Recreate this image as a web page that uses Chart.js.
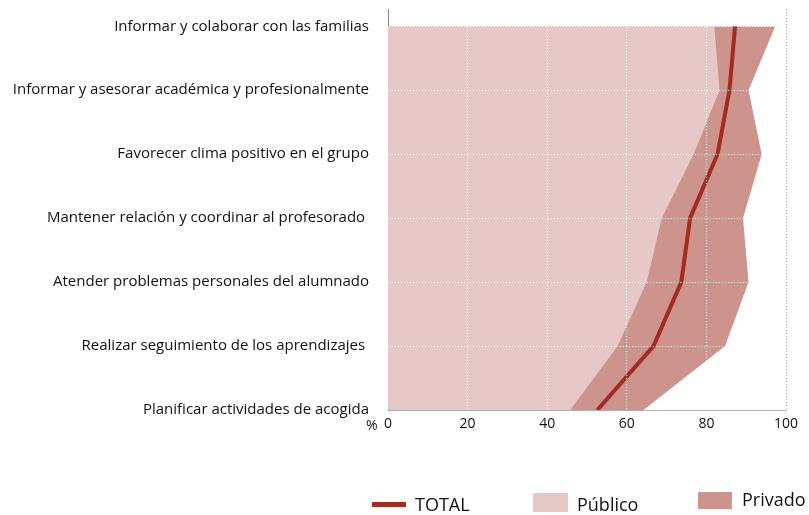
<!DOCTYPE html>
<html>
<head>
<meta charset="utf-8">
<script src="https://cdn.jsdelivr.net/npm/chart.js@4"></script>
<style>
    html, body { margin: 0; padding: 0; background: #fff; }
    #wrap { position: relative; width: 809px; height: 515px; font-family: "Open Sans", sans-serif; }
    #wrap canvas { position: absolute; left: 0; top: 0; }
    .pct { position: absolute; left: 366px; top: 415px; font-size: 14px; color: #111; }
    .leg { position: absolute; font-size: 18px; color: #111; line-height: 1; }
    .sw { position: absolute; }
</style>
</head>
<body>
<div id="wrap">
    <canvas id="chart" width="809" height="515"></canvas>
    <span class="pct">%</span>
    <div class="sw" style="left:372px; top:502px; width:34px; height:5px; background:#a32b20;"></div>
    <span class="leg" style="left:415px; top:495px;">TOTAL</span>
    <div class="sw" style="left:533px; top:493px; width:35px; height:19px; background:#e6c8c6;"></div>
    <span class="leg" style="left:577px; top:495px;">Público</span>
    <div class="sw" style="left:698px; top:492px; width:34px; height:17px; background:#cd948e;"></div>
    <span class="leg" style="left:742px; top:490px;">Privado</span>
</div>
<script>
// categorías de abajo hacia arriba
const categories = [
    "Planificar actividades de acogida",
    "Realizar seguimiento de los aprendizajes ",
    "Atender problemas personales del alumnado",
    "Mantener relación y coordinar al profesorado ",
    "Favorecer clima positivo en el grupo",
    "Informar y asesorar académica y profesionalmente",
    "Informar y colaborar con las familias"
];
const totalValues = [52.6, 66.7, 73.7, 75.9, 82.8, 85.8, 87.2];
const publicoValues = [45.8, 57.7, 65.0, 68.8, 76.8, 83.3, 82.0];
const privadoValues = [64.2, 84.7, 90.6, 89.2, 93.9, 90.6, 97.3];
const xTicks = [0, 20, 40, 60, 80, 100];

function toPoints(values) {
    return values.map((v, i) => ({ x: v, y: i }));
}

const ctx = document.getElementById('chart').getContext('2d');
const chart = new Chart(ctx, {
    type: 'line',
    data: {
        datasets: [
            {
                label: 'TOTAL',
                data: toPoints(totalValues),
                borderColor: '#a32b20',
                borderWidth: 4,
                fill: false
            },
            {
                label: 'Público',
                data: toPoints(publicoValues),
                borderWidth: 0,
                backgroundColor: '#e6c8c6',
                fill: 'origin'
            },
            {
                label: 'Privado',
                data: toPoints(privadoValues),
                borderWidth: 0,
                backgroundColor: '#cd948e',
                fill: 'origin'
            }
        ]
    },
    options: {
        indexAxis: 'y',
        responsive: false,
        animation: false,
        events: [],
        layout: { padding: { left: 0, right: 23, top: 9, bottom: 0 } },
        elements: {
            point: { radius: 0 },
            line: { tension: 0 }
        },
        plugins: {
            legend: { display: false },
            tooltip: { enabled: false }
        },
        scales: {
            x: {
                type: 'linear',
                min: 0,
                max: 100,
                afterBuildTicks: (scale) => { scale.ticks = xTicks.map(v => ({ value: v })); },
                afterFit: (scale) => { scale.height = 105; scale.paddingLeft = 0; scale.paddingRight = 0; },
                grid: {
                    z: 1,
                    drawTicks: false,
                    color: (c) => c.tick && c.tick.value === 100 ? '#aaaaaa' : (c.tick && c.tick.value === 0 ? 'rgba(0,0,0,0)' : 'rgba(255,255,255,0.95)'),
                    lineWidth: 1
                },
                border: { display: true, color: '#b0b0b0', dash: [1, 2] },
                ticks: {
                    padding: 6,
                    color: '#111',
                    font: { family: 'Open Sans', size: 14 }
                }
            },
            y: {
                type: 'linear',
                min: 0,
                max: 6.27,
                afterBuildTicks: (scale) => { scale.ticks = categories.map((c, i) => ({ value: i })); },
                afterFit: (scale) => { scale.width = 388; scale.paddingTop = 0; scale.paddingBottom = 0; },
                grid: {
                    z: 1,
                    drawTicks: false,
                    color: (c) => c.tick && c.tick.value === 0 ? 'rgba(0,0,0,0)' : 'rgba(255,255,255,0.95)',
                    lineWidth: 1
                },
                border: { display: true, color: '#888888', dash: [1, 2] },
                ticks: {
                    padding: 19,
                    color: '#111',
                    font: { family: 'Open Sans', size: 15 },
                    callback: (v) => categories[v]
                }
            }
        }
    }
});
// segundo dibujo: la línea del eje usa la posición calculada en el primero
chart.draw();
</script>
</body>
</html>
